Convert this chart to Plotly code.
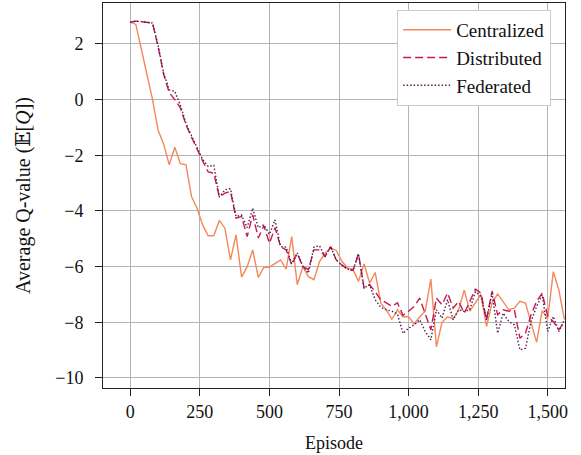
import plotly.graph_objects as go

episodes = list(range(0, 1561, 20))

centralized = [
    2.78, 2.70, 1.80, 0.90, 0.00, -1.10, -1.60, -2.34, -1.71, -2.30,
    -2.34, -3.48, -3.90, -4.50, -4.89, -4.89, -4.34, -4.62, -5.76, -4.86,
    -6.38, -6.00, -5.40, -6.39, -6.02, -6.02, -5.90, -5.76, -6.09, -4.92,
    -6.65, -6.00, -6.36, -6.47, -5.82, -5.52, -5.33, -5.42, -5.80, -6.05,
    -6.10, -6.53, -5.90, -6.59, -6.21, -7.31, -7.55, -7.89, -7.55, -7.80,
    -7.80, -8.06, -7.80, -7.60, -6.45, -8.88, -8.00, -7.80, -7.87, -7.55,
    -6.85, -7.60, -7.30, -7.00, -8.15, -7.30, -6.98, -7.25, -7.55, -7.49,
    -7.25, -7.31, -8.03, -8.72, -7.58, -7.85, -6.18, -6.85, -7.90,
]

distributed = [
    2.78, 2.82, 2.80, 2.78, 2.75, 1.90, 0.90, 0.25, 0.00, -0.30,
    -0.90, -1.35, -1.80, -2.20, -2.60, -2.64, -3.50, -3.36, -3.30, -4.26,
    -4.20, -4.92, -4.14, -4.97, -4.53, -5.16, -4.60, -5.28, -5.40, -5.94,
    -5.52, -6.00, -6.10, -5.40, -5.40, -5.64, -5.28, -5.76, -5.94, -6.09,
    -6.14, -5.54, -6.77, -6.65, -6.90, -7.19, -7.30, -7.43, -7.30, -7.75,
    -7.60, -7.43, -7.13, -7.67, -8.27, -7.13, -7.37, -6.95, -7.49, -7.25,
    -7.67, -7.25, -6.81, -6.95, -7.90, -6.88, -7.73, -7.55, -7.60, -7.55,
    -8.57, -8.39, -7.73, -7.25, -6.95, -7.79, -7.97, -8.27, -7.97,
]

federated = [
    2.78, 2.82, 2.80, 2.78, 2.75, 1.95, 0.95, 0.35, 0.30, -0.20,
    -0.85, -1.30, -1.75, -2.15, -2.40, -2.36, -3.50, -3.24, -3.20, -4.20,
    -4.15, -4.60, -3.90, -4.60, -4.50, -4.84, -4.32, -5.28, -5.30, -5.90,
    -5.50, -5.99, -6.23, -5.30, -5.25, -5.64, -5.28, -5.76, -5.94, -6.09,
    -6.14, -5.54, -6.77, -6.65, -7.19, -7.46, -7.55, -7.60, -7.70, -8.40,
    -8.21, -8.09, -7.91, -8.33, -8.63, -7.55, -7.85, -7.19, -7.91, -7.55,
    -7.61, -7.55, -6.90, -7.07, -7.91, -6.95, -8.39, -7.67, -7.97, -8.09,
    -8.99, -8.93, -7.97, -7.43, -7.01, -8.33, -7.79, -8.33, -7.90,
]

x_ticks = [0, 250, 500, 750, 1000, 1250, 1500]
y_ticks = [2, 0, -2, -4, -6, -8, -10]

serif = "Liberation Serif, DejaVu Serif, serif"
fsize = 18

fig = go.Figure()
fig.add_trace(go.Scatter(x=episodes, y=centralized, mode="lines", name="Centralized",
                         line=dict(color="#F4875C", width=1.4)))
fig.add_trace(go.Scatter(x=episodes, y=distributed, mode="lines", name="Distributed",
                         line=dict(color="#C8194C", width=1.4, dash="8px,4px")))
fig.add_trace(go.Scatter(x=episodes, y=federated, mode="lines", name="Federated",
                         line=dict(color="#5A1C54", width=1.4, dash="1.5px,2px")))

axis_common = dict(
    showgrid=True, gridcolor="#B4B4B4", gridwidth=1,
    showline=True, linecolor="#222222", linewidth=1, mirror=True,
    ticks="outside", ticklen=7, tickcolor="#222222", tickwidth=1,
    zeroline=False, automargin=False,
    tickfont=dict(family=serif, size=fsize, color="#111111"),
)

fig.update_layout(
    width=581, height=455,
    margin=dict(l=103, r=16, t=3, b=67),
    paper_bgcolor="white", plot_bgcolor="white",
    font=dict(family=serif, size=fsize, color="#111111"),
    xaxis=dict(axis_common, range=[-98, 1562], tickvals=x_ticks, tickformat=",",
               title=dict(text="Episode", font=dict(family=serif, size=fsize), standoff=15)),
    yaxis=dict(axis_common, range=[-10.36, 3.47], tickvals=y_ticks, ticklabelstandoff=8,
               title=dict(text="Average Q-value (𝔼[<i>Q</i>])", font=dict(family=serif, size=20),
                          standoff=19)),
    legend=dict(x=0.970, y=0.982, xanchor="right", yanchor="top",
                bgcolor="white", bordercolor="#CCCCCC", borderwidth=1,
                font=dict(family=serif, size=19), itemwidth=48,
                tracegroupgap=0),
    showlegend=True,
)

fig.write_html("out.html", config={"displayModeBar": False},
               post_script="document.body.style.margin='0';")
